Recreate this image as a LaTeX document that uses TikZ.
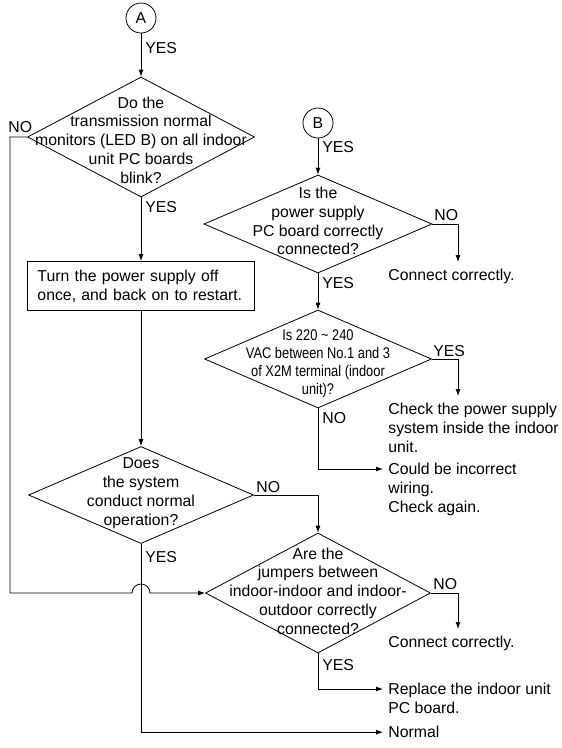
\documentclass[tikz,border=0pt]{standalone}
\usepackage{fontspec}
\setmainfont{Liberation Sans}
\newfontfamily\narrowsans[FakeStretch=0.83]{Liberation Sans}
\usetikzlibrary{shapes.geometric,arrows.meta}

\begin{document}
\begin{tikzpicture}[x=1pt,y=-1pt,line width=0.8pt,
    font=\fontsize{15.8}{18.8}\selectfont,
    >={Latex[length=7pt,width=5pt]},
    conn/.style={draw,circle,minimum size=30pt,inner sep=0pt},
    decide/.style={draw,diamond,inner sep=0pt},
    qtext/.style={align=center,inner sep=0pt},
    act/.style={anchor=north west,align=left,inner sep=0pt},
    answer/.style={anchor=west,inner sep=0pt}]
  \useasboundingbox (0,0) rectangle (562,748);

  % left branch
  \node[conn] (A) at (141,18) {A};
  \node[decide,minimum width=227pt,minimum height=120pt] (blink) at (141,137) {};
  \node[qtext] (blinkq) at (141,140) {Do the\\transmission normal\\monitors (LED B) on all indoor\\unit PC boards\\blink?};
  \node[draw,minimum width=227pt,minimum height=49pt,text width=207pt,
        inner xsep=10pt,align=left] (restart) at (141,286)
        {Turn the power supply off\\once, and back on to restart.};
  \node[decide,minimum width=225pt,minimum height=97pt] (system) at (141,495) {};
  \node[qtext] (systemq) at (141,493) {Does\\the system\\conduct normal\\operation?};

  % right branch
  \node[conn] (B) at (318,123) {B};
  \node[decide,minimum width=228pt,minimum height=98pt] (supply) at (318,224) {};
  \node[qtext] (supplyq) at (318,221) {Is the\\power supply\\PC board correctly\\connected?};
  \node[decide,minimum width=227pt,minimum height=98pt] (volt) at (318,359) {};
  \node[qtext,font=\narrowsans\fontsize{15.5}{18}\selectfont] (voltq) at (318,364)
        {Is 220 \textasciitilde{} 240\\VAC between No.1 and 3\\of X2M terminal (indoor\\unit)?};
  \node[decide,minimum width=225pt,minimum height=120pt] (jump) at (318,593) {};
  \node[qtext] (jumpq) at (318,591) {Are the\\jumpers between\\indoor-indoor and indoor-\\outdoor correctly\\connected?};

  % what to do
  \node[act] (fix1) at (388,269) {Connect correctly.};
  \node[act] (check) at (388,403) {Check the power supply\\system inside the indoor\\unit.};
  \node[act] (wiring) at (388,463) {Could be incorrect\\wiring.\\Check again.};
  \node[act] (fix2) at (388,636) {Connect correctly.};
  \node[act] (replace) at (388,683) {Replace the indoor unit\\PC board.};
  \node[act] (normal) at (388,726) {Normal};

  % answers
  \node[answer] (yesA) at (145,48) {YES};
  \node[answer] (noBlink) at (8,127) {NO};
  \node[answer] (yesBlink) at (145,207) {YES};
  \node[answer] (noSystem) at (256,487) {NO};
  \node[answer] (yesSystem) at (145,557) {YES};
  \node[answer] (yesB) at (322,147) {YES};
  \node[answer] (noSupply) at (434,215) {NO};
  \node[answer] (yesSupply) at (322,283) {YES};
  \node[answer] (yesVolt) at (433,351) {YES};
  \node[answer] (noVolt) at (322,418) {NO};
  \node[answer] (noJump) at (433,584) {NO};
  \node[answer] (yesJump) at (322,665) {YES};

  \begin{scope}[->]
  \draw (A) -- (blink.north);
  \draw (blink.south) -- (restart.north);
  \draw (restart.south) -- (system.north);
  \draw (blink.west) -| (10,593) -- (132,593)
    arc[start angle=180,end angle=0,radius=9pt] -- (jump.west);
  \draw (system.east) -| (jump.north);
  \draw (system.south) |- ([xshift=-5pt]normal.west);
  \draw (B) -- (supply.north);
  \draw (supply.east) -| ([shift={(70pt,7pt)}]fix1.north west);
  \draw (supply.south) -- (volt.north);
  \draw (volt.east) -| ([shift={(70pt,7pt)}]check.north west);
  \draw (volt.south) |- ([shift={(-5pt,-6pt)}]wiring.north west);
  \draw (jump.east) -| ([shift={(70pt,7pt)}]fix2.north west);
  \draw (jump.south) |- ([shift={(-5pt,-6pt)}]replace.north west);
  \end{scope}
\end{tikzpicture}
\end{document}
